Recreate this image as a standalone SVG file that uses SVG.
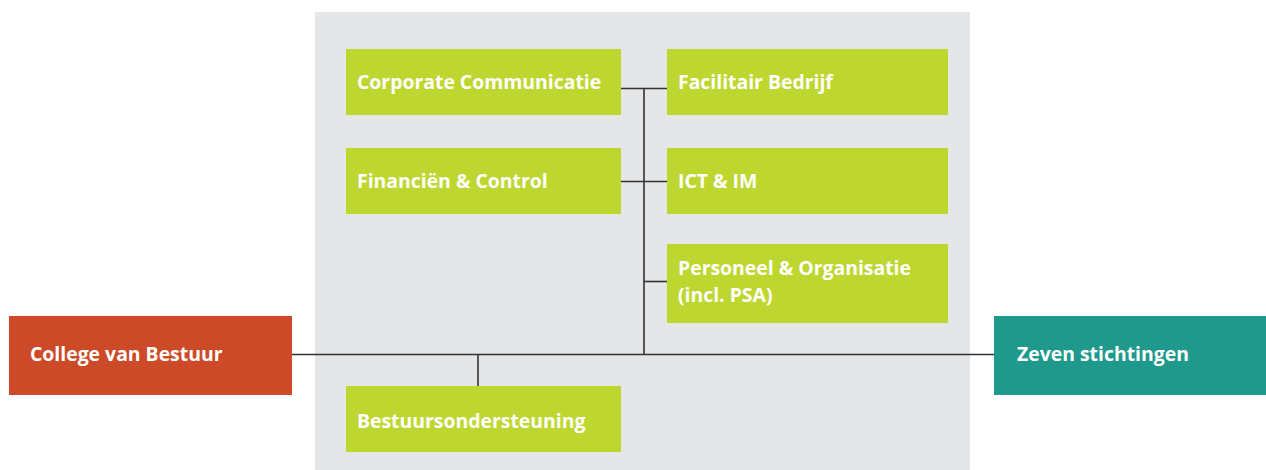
<svg xmlns="http://www.w3.org/2000/svg" width="1266" height="470" viewBox="0 0 1266 470">
<style>
.g{fill:#bed730}
.t{font-family:"Open Sans","Liberation Sans",sans-serif;font-weight:700;font-size:19.4px;fill:#fff}
.c{stroke:#333;stroke-width:1.6;fill:none}
</style>
<rect width="1266" height="470" fill="#fff"/>
<rect id="bg" x="315" y="12" width="655" height="458" fill="#e5e6e8"/>
<g id="connectors">
<path class="c" d="M292 354.5H994"/>
<path class="c" d="M644 88.5V354.5"/>
<path class="c" d="M621 88.5H667"/>
<path class="c" d="M621 181.5H667"/>
<path class="c" d="M644 281.5H667"/>
<path class="c" d="M478 354.5V386"/>
</g>
<g id="cc"><rect class="g" x="346" y="49" width="275" height="66"/><text class="t" x="357" y="89">Corporate Communicatie</text></g>
<g id="fb"><rect class="g" x="667" y="49" width="281" height="66"/><text class="t" x="678" y="89">Facilitair Bedrijf</text></g>
<g id="fc"><rect class="g" x="346" y="148" width="275" height="66"/><text class="t" x="357" y="188">Financiën &amp; Control</text></g>
<g id="ict"><rect class="g" x="667" y="148" width="281" height="66"/><text class="t" x="678" y="188">ICT &amp; IM</text></g>
<g id="po"><rect class="g" x="667" y="244" width="281" height="79"/><text class="t" x="678" y="275">Personeel &amp; Organisatie</text><text class="t" x="678" y="302">(incl. PSA)</text></g>
<g id="cvb"><rect x="9" y="316" width="283" height="79" fill="#cc4a27"/><text class="t" x="30" y="361">College van Bestuur</text></g>
<g id="zs"><rect x="994" y="316" width="272" height="79" fill="#1f998c"/><text class="t" x="1017" y="361">Zeven stichtingen</text></g>
<g id="bo"><rect class="g" x="346" y="386" width="275" height="66"/><text class="t" x="357" y="428">Bestuursondersteuning</text></g>
</svg>
